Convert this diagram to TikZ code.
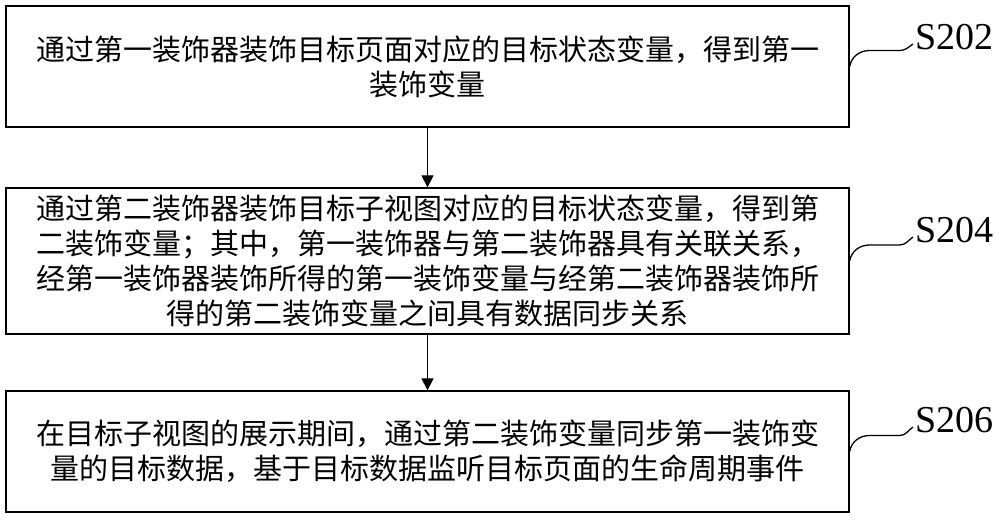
\documentclass[tikz,border=0pt]{standalone}
\usepackage{fontspec}
\setmainfont{Liberation Serif}
\newfontfamily\cjk{Noto Sans CJK SC}
\usetikzlibrary{arrows.meta,calc}

\tikzset{
  stepbox/.style={draw,line width=1.3pt,minimum width=843pt,inner sep=0pt,
    align=center,font=\cjk\fontsize{29}{35}\selectfont},
  steplabel/.style={anchor=west,inner sep=0pt,font=\fontsize{38}{40}\selectfont},
  leader/.style={line width=1.3pt}
}

\begin{document}
\begin{tikzpicture}[x=1pt,y=1pt]
\useasboundingbox (0,0) rectangle (1000,519);

\node[stepbox,minimum height=121pt] (b1) at (427.5,452.5)
  {通过第一装饰器装饰目标页面对应的目标状态变量，得到第一\\装饰变量};
\node[stepbox,minimum height=146pt] (b2) at (427.5,258)
  {通过第二装饰器装饰目标子视图对应的目标状态变量，得到第\\
   二装饰变量；其中，第一装饰器与第二装饰器具有关联关系，\\
   经第一装饰器装饰所得的第一装饰变量与经第二装饰器装饰所\\
   得的第二装饰变量之间具有数据同步关系};
\node[stepbox,minimum height=121pt] (b3) at (427.5,67.5)
  {在目标子视图的展示期间，通过第二装饰变量同步第一装饰变\\
   量的目标数据，基于目标数据监听目标页面的生命周期事件};

\node[steplabel] (l1) at (915,482) {S202};
\node[steplabel] (l2) at (915,289) {S204};
\node[steplabel] (l3) at (915,99) {S206};

% arrows between steps
\draw[-{Triangle[length=12pt,width=12pt]},line width=1.3pt] (b1) -- (b2);
\draw[-{Triangle[length=12pt,width=12pt]},line width=1.3pt] (b2) -- (b3);

% step numbers
\draw[leader] (b1.east) to[out=80,in=180] ++(20,16) -- ++(30,0)
  to[out=0,in=215] ($(l1.west)+(-2,-7)$);
\draw[leader] (b2.east) to[out=80,in=180] ++(20,16) -- ++(30,0)
  to[out=0,in=215] ($(l2.west)+(-2,-7)$);
\draw[leader] (b3.east) to[out=80,in=180] ++(20,16) -- ++(30,0)
  to[out=0,in=215] ($(l3.west)+(-2,-7)$);
\end{tikzpicture}
\end{document}
